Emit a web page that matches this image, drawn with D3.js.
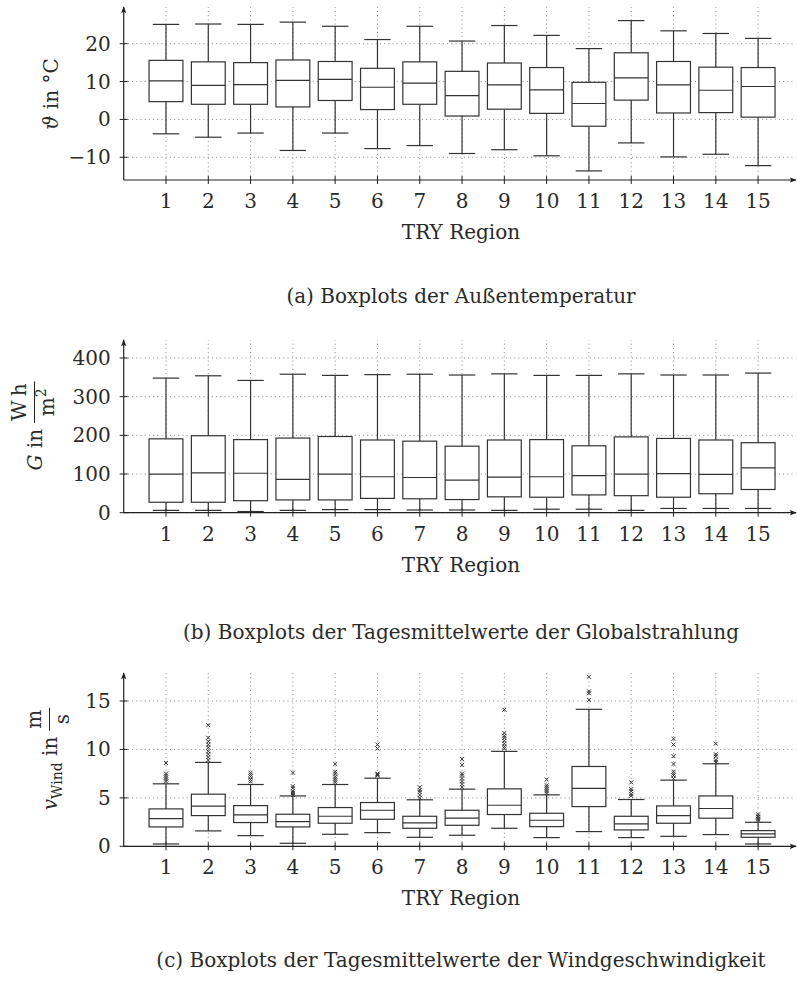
<!DOCTYPE html>
<html>
<head>
<meta charset="utf-8">
<script src="https://cdn.jsdelivr.net/npm/d3@7"></script>
<style>
  body { margin: 0; background: #fff; }
  svg text { fill: #2a2a2a; }
</style>
</head>
<body>
<script>
// TRY regions (x categories)
var regions = [1, 2, 3, 4, 5, 6, 7, 8, 9, 10, 11, 12, 13, 14, 15];

// (a) outdoor temperature in °C
var tempLow  = [-3.8, -4.7, -3.6, -8.2, -3.6, -7.7, -6.9, -9.0, -8.0, -9.6, -13.6, -6.2, -9.9, -9.2, -12.2];
var tempQ1   = [4.7, 4.0, 4.0, 3.3, 5.0, 2.6, 4.0, 0.9, 2.7, 1.6, -1.8, 5.1, 1.7, 1.8, 0.6];
var tempMed  = [10.2, 9.0, 9.2, 10.3, 10.6, 8.5, 9.6, 6.3, 9.1, 7.8, 4.2, 11.0, 9.1, 7.7, 8.7];
var tempQ3   = [15.6, 15.2, 15.0, 15.7, 15.3, 13.5, 15.2, 12.7, 14.9, 13.7, 9.8, 17.6, 15.3, 13.8, 13.7];
var tempHigh = [25.1, 25.2, 25.1, 25.7, 24.6, 21.1, 24.6, 20.7, 24.8, 22.2, 18.7, 26.1, 23.4, 22.7, 21.4];
var tempTicks = [-10, 0, 10, 20];

// (b) daily mean global radiation in Wh/m2
var radLow  = [6, 6, 3, 6, 8, 8, 7, 7, 6, 9, 9, 6, 11, 11, 11];
var radQ1   = [27, 27, 31, 33, 33, 37, 36, 34, 41, 40, 46, 44, 40, 49, 60];
var radMed  = [100, 103, 102, 86, 100, 93, 91, 84, 92, 93, 96, 100, 101, 99, 116];
var radQ3   = [191, 199, 189, 193, 197, 188, 185, 172, 188, 189, 173, 196, 192, 188, 181];
var radHigh = [348, 354, 342, 358, 355, 357, 358, 356, 359, 355, 355, 359, 356, 356, 361];
var radTicks = [0, 100, 200, 300, 400];

// (c) daily mean wind speed in m/s
var windLow  = [0.24, 1.59, 1.1, 0.31, 1.24, 1.41, 0.93, 1.14, 1.86, 0.9, 1.52, 0.9, 1.03, 1.21, 0.24];
var windQ1   = [2.0, 3.17, 2.45, 2.0, 2.38, 2.79, 1.86, 2.17, 3.28, 2.03, 4.1, 1.69, 2.38, 2.9, 0.93];
var windMed  = [2.86, 4.14, 3.24, 2.55, 3.1, 3.72, 2.41, 2.9, 4.24, 2.69, 5.97, 2.31, 3.17, 3.9, 1.28];
var windQ3   = [3.86, 5.38, 4.2, 3.31, 4.0, 4.52, 3.1, 3.72, 5.93, 3.41, 8.24, 3.1, 4.17, 5.2, 1.62];
var windHigh = [6.45, 8.66, 6.38, 5.2, 6.38, 7.03, 4.8, 5.9, 9.8, 5.31, 14.14, 4.83, 6.83, 8.52, 2.48];
var windOutliers = [
  [8.6, 7.5, 7.3, 7.1, 6.9, 6.7],
  [12.5, 11.2, 10.8, 10.5, 10.2, 9.8, 9.5, 9.2, 8.9],
  [7.6, 7.4, 7.2, 6.9, 6.7],
  [7.6, 6.2, 6.0, 5.7, 5.5, 5.3],
  [8.5, 7.7, 7.5, 7.2, 7.0, 6.8, 6.6],
  [10.5, 10.1, 7.5, 7.4, 7.3],
  [6.1, 5.8, 5.6, 5.3, 5.0],
  [9.0, 8.4, 7.5, 7.3, 7.0, 6.7, 6.4, 6.1],
  [14.1, 11.7, 11.4, 11.2, 10.9, 10.6, 10.3, 10.1],
  [6.9, 6.3, 6.1, 5.9, 5.7, 5.5],
  [17.5, 16.0, 15.8, 15.1],
  [6.6, 5.9, 5.7, 5.4, 5.2],
  [11.1, 10.5, 9.3, 8.5, 7.7, 7.5, 7.3, 7.0],
  [10.6, 9.5, 9.3, 8.9, 8.7],
  [3.3, 3.1, 3.0, 2.8, 2.65]
];
var windTicks = [0, 5, 10, 15];

var xLabel = "TRY Region";
var captions = [
  "(a) Boxplots der Außentemperatur",
  "(b) Boxplots der Tagesmittelwerte der Globalstrahlung",
  "(c) Boxplots der Tagesmittelwerte der Windgeschwindigkeit"
];

var W = 797, H = 984;
var fontSize = 20;
var smallSize = 14;
var lineColor = "#333";
var centerX = 461;

var svg = d3.select("body").append("svg")
  .attr("width", W)
  .attr("height", H)
  .attr("font-family", "'DejaVu Serif', serif");

svg.append("defs").append("marker")
  .attr("id", "arrow")
  .attr("viewBox", "0 -4 8 8")
  .attr("refX", 7)
  .attr("refY", 0)
  .attr("markerWidth", 7)
  .attr("markerHeight", 7)
  .attr("markerUnits", "userSpaceOnUse")
  .attr("orient", "auto")
  .append("path")
  .attr("d", "M0,-3 L8,0 L0,3 L1.5,0 Z")
  .attr("fill", "#222");

var x = d3.scaleLinear().domain([0, 16]).range([123.7, 800.4]);
var axisRight = 796;

function drawBoxChart(cfg) {
  var y = d3.scaleLinear().domain(cfg.domain).range(cfg.range);
  var yBottom = cfg.range[0];
  var g = svg.append("g");
  var boxW = (x(1) - x(0)) * 0.8;
  var capW = boxW * 0.78;

  // dotted grid
  g.selectAll(".hgrid")
    .data(cfg.ticks)
    .enter()
    .append("line")
    .attr("x1", x(0)).attr("x2", axisRight)
    .attr("y1", function(d) { return y(d); })
    .attr("y2", function(d) { return y(d); })
    .attr("stroke", "#888")
    .attr("stroke-width", 1)
    .attr("stroke-dasharray", "1,3.2");

  g.selectAll(".vgrid")
    .data(regions)
    .enter()
    .append("line")
    .attr("x1", function(d) { return x(d); })
    .attr("x2", function(d) { return x(d); })
    .attr("y1", yBottom).attr("y2", cfg.top)
    .attr("stroke", "#888")
    .attr("stroke-width", 1)
    .attr("stroke-dasharray", "1,3.2");

  var boxes = g.selectAll(".box")
    .data(regions)
    .enter()
    .append("g")
    .attr("stroke", lineColor)
    .attr("stroke-width", 1.2)
    .attr("fill", "none");

  // whiskers
  boxes.append("line")
    .attr("x1", function(d) { return x(d); })
    .attr("x2", function(d) { return x(d); })
    .attr("y1", function(d, i) { return y(cfg.high[i]); })
    .attr("y2", function(d, i) { return y(cfg.q3[i]); });
  boxes.append("line")
    .attr("x1", function(d) { return x(d); })
    .attr("x2", function(d) { return x(d); })
    .attr("y1", function(d, i) { return y(cfg.q1[i]); })
    .attr("y2", function(d, i) { return y(cfg.low[i]); });
  boxes.append("line")
    .attr("x1", function(d) { return x(d) - capW / 2; })
    .attr("x2", function(d) { return x(d) + capW / 2; })
    .attr("y1", function(d, i) { return y(cfg.high[i]); })
    .attr("y2", function(d, i) { return y(cfg.high[i]); });
  boxes.append("line")
    .attr("x1", function(d) { return x(d) - capW / 2; })
    .attr("x2", function(d) { return x(d) + capW / 2; })
    .attr("y1", function(d, i) { return y(cfg.low[i]); })
    .attr("y2", function(d, i) { return y(cfg.low[i]); });

  boxes.append("rect")
    .attr("x", function(d) { return x(d) - boxW / 2; })
    .attr("y", function(d, i) { return y(cfg.q3[i]); })
    .attr("width", boxW)
    .attr("height", function(d, i) { return y(cfg.q1[i]) - y(cfg.q3[i]); })
    .attr("fill", "#fff");

  boxes.append("line")
    .attr("x1", function(d) { return x(d) - boxW / 2; })
    .attr("x2", function(d) { return x(d) + boxW / 2; })
    .attr("y1", function(d, i) { return y(cfg.med[i]); })
    .attr("y2", function(d, i) { return y(cfg.med[i]); });

  // outliers as small crosses
  if (cfg.outliers) {
    boxes.each(function(d, i) {
      d3.select(this).selectAll("path")
        .data(cfg.outliers[i])
        .enter()
        .append("path")
        .attr("stroke-width", 1)
        .attr("d", function(v) {
          var cx = x(d), cy = y(v), s = 2;
          return "M" + (cx - s) + "," + (cy - s) + "L" + (cx + s) + "," + (cy + s) +
                 "M" + (cx - s) + "," + (cy + s) + "L" + (cx + s) + "," + (cy - s);
        });
    });
  }

  // axes
  g.append("line")
    .attr("x1", x(0)).attr("x2", x(0))
    .attr("y1", yBottom).attr("y2", cfg.top)
    .attr("stroke", "#222").attr("stroke-width", 1.2)
    .attr("marker-end", "url(#arrow)");
  g.append("line")
    .attr("x1", x(0)).attr("x2", axisRight)
    .attr("y1", yBottom).attr("y2", yBottom)
    .attr("stroke", "#222").attr("stroke-width", 1.2)
    .attr("marker-end", "url(#arrow)");

  g.selectAll(".ytick")
    .data(cfg.ticks)
    .enter()
    .append("line")
    .attr("x1", x(0) - 4).attr("x2", x(0) + 4)
    .attr("y1", function(d) { return y(d); })
    .attr("y2", function(d) { return y(d); })
    .attr("stroke", "#222");
  g.selectAll(".ylab")
    .data(cfg.ticks)
    .enter()
    .append("text")
    .attr("x", x(0) - 13)
    .attr("y", function(d) { return y(d) + 7; })
    .attr("text-anchor", "end")
    .attr("font-size", fontSize)
    .text(function(d) { return d3.format("")(d); });

  g.selectAll(".xtick")
    .data(regions)
    .enter()
    .append("line")
    .attr("x1", function(d) { return x(d); })
    .attr("x2", function(d) { return x(d); })
    .attr("y1", yBottom - 4).attr("y2", yBottom + 4)
    .attr("stroke", "#222");
  g.selectAll(".xlab")
    .data(regions)
    .enter()
    .append("text")
    .attr("x", function(d) { return x(d); })
    .attr("y", yBottom + 28)
    .attr("text-anchor", "middle")
    .attr("font-size", fontSize)
    .text(function(d) { return d; });

  g.append("text")
    .attr("x", centerX)
    .attr("y", yBottom + 59)
    .attr("text-anchor", "middle")
    .attr("font-size", fontSize)
    .text(xLabel);

  g.append("text")
    .attr("x", centerX)
    .attr("y", cfg.captionY)
    .attr("text-anchor", "middle")
    .attr("font-size", fontSize)
    .text(cfg.caption);

  return g;
}

// fraction for the rotated y labels, left edge at x0
function addFraction(g, x0, num, den, denSup) {
  var n = g.append("text").attr("font-size", fontSize).attr("text-anchor", "middle").text(num);
  var d = g.append("text").attr("font-size", fontSize).attr("text-anchor", "middle");
  d.append("tspan").text(den);
  if (denSup) {
    d.append("tspan").attr("font-size", smallSize).attr("dy", -8).text(denSup);
  }
  var fw = Math.max(n.node().getComputedTextLength(), d.node().getComputedTextLength()) + 4;
  n.attr("x", x0 + fw / 2).attr("y", -16);
  d.attr("x", x0 + fw / 2).attr("y", 12);
  g.append("line")
    .attr("x1", x0).attr("x2", x0 + fw)
    .attr("y1", -7.5).attr("y2", -7.5)
    .attr("stroke", "#222").attr("stroke-width", 1);
  return fw;
}

drawBoxChart({
  domain: [-16, 20], range: [180, 43.7], top: 7, ticks: tempTicks,
  low: tempLow, q1: tempQ1, med: tempMed, q3: tempQ3, high: tempHigh,
  caption: captions[0], captionY: 303
});
drawBoxChart({
  domain: [0, 400], range: [512.7, 358], top: 340, ticks: radTicks,
  low: radLow, q1: radQ1, med: radMed, q3: radQ3, high: radHigh,
  caption: captions[1], captionY: 639
});
drawBoxChart({
  domain: [0, 15], range: [846.3, 701], top: 673, ticks: windTicks,
  low: windLow, q1: windQ1, med: windMed, q3: windQ3, high: windHigh,
  outliers: windOutliers,
  caption: captions[2], captionY: 967
});

var gap = 6;

// y label (a)
var la = svg.append("text")
  .attr("transform", "translate(58,94) rotate(-90)")
  .attr("text-anchor", "middle")
  .attr("font-size", fontSize);
la.append("tspan").attr("font-style", "italic").text("ϑ");
la.append("tspan").text(" in °C");

// y label (b)
var lb = svg.append("g").attr("transform", "translate(42,426) rotate(-90)");
function radLabelText(x0) {
  var t = lb.append("text").attr("font-size", fontSize).attr("x", x0);
  t.append("tspan").attr("font-style", "italic").text("G");
  t.append("tspan").text(" in");
  return t;
}
var lbW = radLabelText(0).node().getComputedTextLength() + gap;
var lbFrac = addFraction(lb, 0, "W\u2009h", "m", "2");
var lbStart = -(lbW + lbFrac) / 2;
lb.selectAll("*").remove();
radLabelText(lbStart);
addFraction(lb, lbStart + lbW, "W\u2009h", "m", "2");

// y label (c)
var lc = svg.append("g").attr("transform", "translate(57,759) rotate(-90)");
function windLabelText(x0) {
  var t = lc.append("text").attr("font-size", fontSize).attr("x", x0);
  t.append("tspan").attr("font-style", "italic").text("v");
  t.append("tspan").attr("font-size", smallSize).attr("dy", 5).text("Wind");
  t.append("tspan").attr("dy", -5).text(" in");
  return t;
}
var lcW = windLabelText(0).node().getComputedTextLength() + gap;
var lcFrac = addFraction(lc, 0, "m", "s");
var lcStart = -(lcW + lcFrac) / 2;
lc.selectAll("*").remove();
windLabelText(lcStart);
addFraction(lc, lcStart + lcW, "m", "s");
</script>
</body>
</html>
